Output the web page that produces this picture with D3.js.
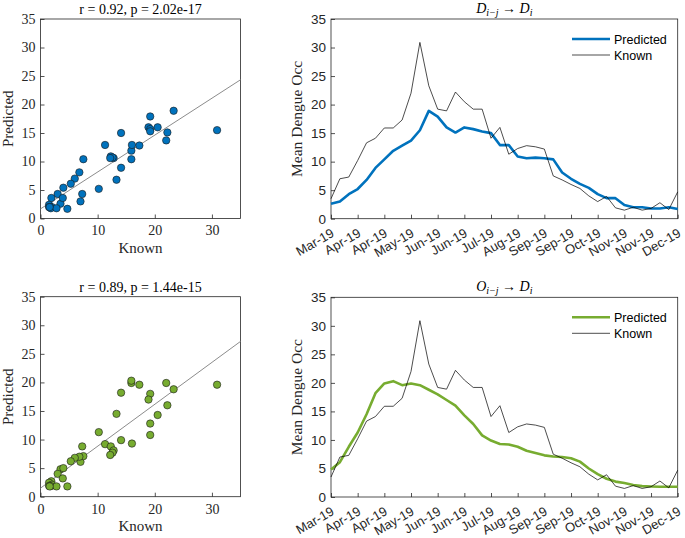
<!DOCTYPE html>
<html><head><meta charset="utf-8">
<script src="https://cdn.jsdelivr.net/npm/d3@7"></script>
<style>body{margin:0;background:#fff}svg{display:block}</style>
</head><body>
<svg id="c" width="685" height="538"></svg>
<script>
// ---- data ----
const weekIndex = d3.range(40);
const tickLabels = ["Mar-19","Apr-19","Apr-19","May-19","Jun-19","Jun-19","Jul-19","Aug-19","Sep-19","Sep-19","Oct-19","Nov-19","Nov-19","Dec-19"];
const known = [3.5,7.0,7.3,10.2,13.3,14.1,15.9,15.9,17.3,22.0,30.9,23.3,19.2,18.9,22.2,20.5,19.2,19.2,14.1,16.0,11.3,12.3,12.8,12.6,12.2,7.5,6.8,6.0,5.3,4.0,3.0,3.9,1.9,1.5,2.0,1.5,1.8,2.8,1.6,4.7];
const predD = [2.6,3.0,4.3,5.2,6.8,8.9,10.4,11.9,12.8,13.7,15.5,18.9,17.9,16.0,15.1,16.0,15.7,15.3,15.0,12.9,12.9,10.9,10.6,10.7,10.6,10.4,8.1,7.0,6.1,5.4,4.3,3.6,3.6,2.4,2.0,2.0,1.8,1.8,2.0,1.7];
const predO = [4.8,6.1,8.8,11.3,14.5,18.2,19.9,20.3,19.6,19.9,19.6,18.8,18.0,17.0,16.0,14.3,12.8,10.8,9.9,9.3,9.2,8.8,8.1,7.7,7.3,7.1,7.0,6.8,6.2,5.0,4.0,3.2,2.7,2.45,2.1,1.9,1.85,1.8,1.8,1.8];
const stats = ["r = 0.92, p = 2.02e-17", "r = 0.89, p = 1.44e-15"];
const colors = ["#0072BD", "#77AC30"];

const svg = d3.select("#c");
const serif = "'Liberation Serif', 'Times New Roman', serif";
const sans = "'Liberation Sans', Arial, sans-serif";
const axisCol = "#262626";

function frame(g, x0, x1, y0, y1) {
  g.append("rect").attr("x", x0).attr("y", y1).attr("width", x1 - x0).attr("height", y0 - y1)
    .attr("fill", "none").attr("stroke", axisCol).attr("stroke-width", 0.8);
}

function fit(xs, ys) {
  const mx = d3.mean(xs), my = d3.mean(ys);
  let sxy = 0, sxx = 0;
  xs.forEach((x, i) => { sxy += (x - mx) * (ys[i] - my); sxx += (x - mx) ** 2; });
  const b = sxy / sxx;
  return {b, a: my - b * mx};
}

function scatter(top, bottom, preds, color, title) {
  const g = svg.append("g");
  const x = d3.scaleLinear().domain([0, 35]).range([40.5, 240.5]);
  const y = d3.scaleLinear().domain([0, 35]).range([bottom, top]);
  const xa = g.append("g").attr("transform", `translate(0,${bottom})`)
    .call(d3.axisBottom(x).tickValues([0,10,20,30]).tickSize(-4).tickPadding(7));
  const ya = g.append("g").attr("transform", `translate(40.5,0)`)
    .call(d3.axisLeft(y).tickValues(d3.range(0,36,5)).tickSize(-4).tickPadding(5));
  [xa, ya].forEach(a => {
    a.select(".domain").remove();
    a.selectAll("line").attr("stroke", axisCol).attr("stroke-width", 0.8);
    a.selectAll("text").attr("font-family", serif).attr("font-size", 14).attr("fill", axisCol);
  });
  frame(g, 40.5, 240.5, bottom, top);
  const f = fit(known, preds);
  g.append("line").attr("x1", x(0)).attr("y1", y(f.a)).attr("x2", x(35)).attr("y2", y(f.a + f.b * 35))
    .attr("stroke", "#8c8c8c").attr("stroke-width", 1);
  g.selectAll("circle").data(known).join("circle")
    .attr("cx", d => x(d)).attr("cy", (d, i) => y(preds[i])).attr("r", 3.7)
    .attr("fill", color).attr("stroke", "#1a1a1a").attr("stroke-width", 0.6);
  g.append("text").attr("x", 140.5).attr("y", top - 5).attr("text-anchor", "middle")
    .attr("font-family", serif).attr("font-size", 14).attr("fill", "#000").text(title);
  g.append("text").attr("x", 140.5).attr("y", bottom + 34).attr("text-anchor", "middle")
    .attr("font-family", serif).attr("font-size", 15).attr("fill", axisCol).text("Known");
  g.append("text").attr("transform", `translate(13,${(top + bottom) / 2}) rotate(-90)`)
    .attr("text-anchor", "middle").attr("font-family", serif).attr("font-size", 15)
    .attr("fill", axisCol).text("Predicted");
}

function lineChart(top, bottom, preds, color, sym) {
  const g = svg.append("g");
  const x0 = 331, x1 = 677.7;
  const x = d3.scaleLinear().domain([0, 39]).range([x0, x1]);
  const y = d3.scaleLinear().domain([0, 35]).range([bottom, top]);
  const ticks = d3.range(0, 40, 3);
  const xa = g.append("g").attr("transform", `translate(0,${bottom})`)
    .call(d3.axisBottom(x).tickValues(ticks).tickFormat((d, i) => tickLabels[i]).tickSize(-4));
  xa.selectAll("text").attr("text-anchor", "end").attr("x", 0).attr("y", 0).attr("dy", 0)
    .attr("transform", "translate(3.5,17) rotate(-30)");
  const ya = g.append("g").attr("transform", `translate(${x0},0)`)
    .call(d3.axisLeft(y).tickValues(d3.range(0,36,5)).tickSize(-4).tickPadding(5));
  [xa, ya].forEach(a => {
    a.select(".domain").remove();
    a.selectAll("line").attr("stroke", axisCol).attr("stroke-width", 0.8);
    a.selectAll("text").attr("font-family", sans).attr("font-size", 13).attr("fill", axisCol);
  });
  ya.selectAll("text").attr("font-size", 13.5);
  frame(g, x0, x1, bottom, top);
  const ln = d3.line().x((d, i) => x(i)).y(d => y(d));
  g.append("path").datum(preds).attr("d", ln).attr("fill", "none")
    .attr("stroke", color).attr("stroke-width", 2.6).attr("stroke-linejoin", "round");
  g.append("path").datum(known).attr("d", ln).attr("fill", "none")
    .attr("stroke", "#000").attr("stroke-width", 0.7);
  // legend
  const ly1 = top + 20, ly2 = top + 36;
  g.append("line").attr("x1", 572).attr("x2", 610).attr("y1", ly1).attr("y2", ly1)
    .attr("stroke", color).attr("stroke-width", 2.6);
  g.append("line").attr("x1", 572).attr("x2", 610).attr("y1", ly2).attr("y2", ly2)
    .attr("stroke", "#000").attr("stroke-width", 0.7);
  g.append("text").attr("x", 614).attr("y", ly1 + 4.5).attr("font-family", sans).attr("font-size", 12.5).text("Predicted");
  g.append("text").attr("x", 614).attr("y", ly2 + 4.5).attr("font-family", sans).attr("font-size", 12.5).text("Known");
  // y label
  g.append("text").attr("transform", `translate(302,${(top + bottom) / 2}) rotate(-90)`)
    .attr("text-anchor", "middle").attr("font-family", serif).attr("font-size", 15.5)
    .attr("fill", axisCol).text("Mean Dengue Occ");
  // title
  const t = g.append("text").attr("x", (x0 + x1) / 2).attr("y", top - 6).attr("text-anchor", "middle")
    .attr("font-family", serif).attr("font-size", 14).attr("fill", "#000");
  t.append("tspan").attr("font-style", "italic").text(sym);
  t.append("tspan").attr("font-style", "italic").attr("font-size", 10).attr("dy", 3).text("i\u2212j");
  t.append("tspan").attr("dy", -3).text(" \u2192 ");
  t.append("tspan").attr("font-style", "italic").text("D");
  t.append("tspan").attr("font-style", "italic").attr("font-size", 10).attr("dy", 3).text("i");
}

scatter(19, 218.5, predD, colors[0], stats[0]);
scatter(296.7, 496.7, predO, colors[1], stats[1]);
lineChart(19, 218.7, predD, colors[0], "D");
lineChart(297.3, 497, predO, colors[1], "O");
</script>
</body></html>
